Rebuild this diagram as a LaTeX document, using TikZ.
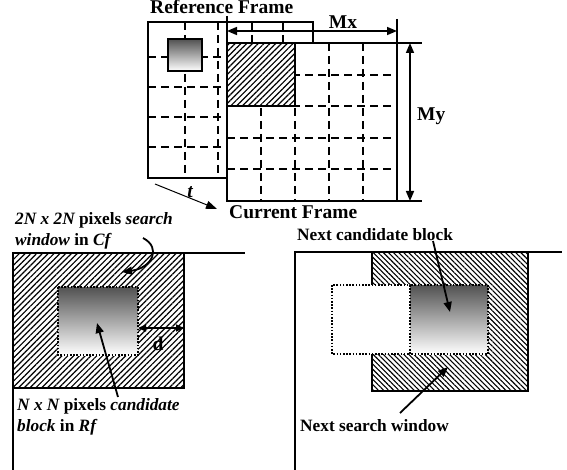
\documentclass[tikz,border=0pt]{standalone}
\usepackage{fontspec}
\setmainfont{Liberation Serif}
\usetikzlibrary{arrows.meta,patterns.meta}
\begin{document}
\begin{tikzpicture}[x=1pt,y=-1pt,
  frame/.style={line width=2pt},
  gridline/.style={line width=1.5pt, dash pattern=on 8pt off 5pt},
  dots/.style={line width=1.7pt, dash pattern=on 1.6pt off 1.6pt},
  arr/.style={line width=1.8pt,-{Triangle[length=10pt,width=8pt]}},
  thinarr/.style={line width=1pt,-{Triangle[length=11pt,width=8pt]}},
  dimarr/.style={line width=1.6pt,{Triangle[length=10pt,width=8pt]}-{Triangle[length=10pt,width=8pt]}},
  big/.style={font=\fontsize{19.5}{21}\selectfont\bfseries, inner sep=0pt},
  small/.style={font=\fontsize{17.3}{21}\selectfont\bfseries, inner sep=0pt, align=left},
  hatchA/.style={pattern={Lines[angle=45,distance=4.1pt,line width=1.2pt]}},
  hatchB/.style={pattern={Lines[angle=-45,distance=3.6pt,line width=1.1pt]}},
  grad/.style={top color=black!68, bottom color=white},
]
\useasboundingbox (0,0) rectangle (567,470);

% ---------- Reference frame ----------
\draw[frame] (148,22) rectangle (313,178);
\foreach \y in {57,87,117,147} \draw[gridline] (148,\y) -- (313,\y);
\foreach \x in {185,218,252,283} \draw[gridline] (\x,22) -- (\x,178);
\draw[frame, grad] (168,39) rectangle (202,71);

% ---------- Current frame ----------
\draw[frame, fill=white] (227,43) rectangle (397,201);
\foreach \y in {75,106,138,169} \draw[gridline] (227,\y) -- (397,\y);
\foreach \x in {261,295,329,363} \draw[gridline] (\x,43) -- (\x,201);
\fill[white] (227,43) rectangle (295,106);
\path[hatchA] (227,43) rectangle (295,106);
\draw[frame] (227,43) rectangle (295,106);

% dimension lines
\coordinate (mxa) at (227,31);
\coordinate (mxb) at (397,31);
\draw[line width=1.5pt] (227,16) -- (227,43);
\draw[line width=1.5pt] (397,19) -- (397,43);
\draw[dimarr] (mxa) -- (mxb);
\coordinate (mya) at (410,43);
\coordinate (myb) at (410,201);
\draw[line width=1.5pt] (397,43) -- (422,43);
\draw[line width=1.5pt] (397,201) -- (422,201);
\draw[dimarr] (mya) -- (myb);

\node[big, anchor=west] (rf) at (150,7) {Reference Frame};
\node[big, anchor=west] (cfr) at (229,212) {Current Frame};
\node[big] (mx) at (343,22) {Mx};
\node[big, anchor=west] (my) at (417,116) {My};
\node[big] (t) at (190,192) {\itshape t};
\coordinate (ta) at (155,184);
\coordinate (tb) at (217,209);
\draw[thinarr] (ta) -- (tb);

% ---------- Bottom left ----------
\path[hatchA] (13,253) rectangle (184,388);
\draw[frame] (13,253) rectangle (184,388);
\draw[line width=2.4pt] (13,470) -- (13,253) -- (245,253);
\draw[dots, grad] (58,287) rectangle (138,355);
\coordinate (da) at (138,328);
\coordinate (db) at (184,328);
\draw[line width=1.6pt,{Triangle[length=8pt,width=7pt]}-{Triangle[length=8pt,width=7pt]}] (da) -- (db);
\node[big] (d) at (158,344) {d};

\node[small, anchor=west] (sw) at (15,230.5) {\itshape 2N x 2N \upshape pixels \itshape search\\\itshape window \upshape in \itshape Cf};
\coordinate (swa) at (143,238);
\coordinate (swb) at (122,272);
\draw[arr] (swa) .. controls (162,248) and (152,268) .. (swb);

\node[small, anchor=west] (cb) at (17,417) {\itshape N x N \upshape pixels \itshape candidate\\\itshape block \upshape in \itshape Rf};
\coordinate (cba) at (118,397);
\coordinate (cbb) at (97,323);
\draw[arr] (cba) -- (cbb);

% ---------- Bottom right ----------
\path[hatchB] (372,252) rectangle (528,391);
\draw[frame] (372,252) rectangle (528,391);
\draw[line width=2.4pt] (295,470) -- (295,252) -- (562,252);
\draw[dots, fill=white] (332,285) rectangle (410,354);
\draw[dots, grad] (410,285) rectangle (488,354);

\node[small, anchor=west] (ncb) at (297,235) {Next candidate block};
\coordinate (ncba) at (433,241);
\coordinate (ncbb) at (450,312);
\draw[arr] (ncba) -- (ncbb);

\node[small, anchor=west] (nsw) at (300,426) {Next search window};
\coordinate (nswa) at (400,413);
\coordinate (nswb) at (448,367);
\draw[arr] (nswa) -- (nswb);
\end{tikzpicture}
\end{document}
